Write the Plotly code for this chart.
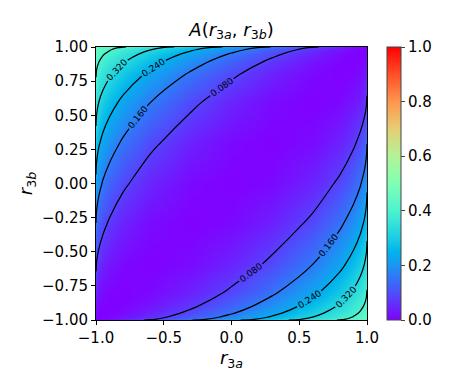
import plotly.graph_objects as go

# grid coordinates (r3a along x, r3b along y), denser near the edges
r3a = [-1.0, -0.995, -0.98, -0.95, -0.9, -0.8, -0.6, -0.3, 0.0, 0.3, 0.6, 0.8, 0.9, 0.95, 0.98, 0.995, 1.0]
r3b = [-1.0, -0.995, -0.98, -0.95, -0.9, -0.8, -0.6, -0.3, 0.0, 0.3, 0.6, 0.8, 0.9, 0.95, 0.98, 0.995, 1.0]

# A values, rows = r3b, columns = r3a
A = [
    [0.0, 0.0011, 0.0045, 0.0113, 0.0225, 0.045, 0.09, 0.1575, 0.225, 0.2925, 0.36, 0.405, 0.4275, 0.4388, 0.4455, 0.4489, 0.45],
    [0.0011, 0.0, 0.0011, 0.0053, 0.0137, 0.0324, 0.0727, 0.1364, 0.2025, 0.2707, 0.3413, 0.3906, 0.4167, 0.4307, 0.4399, 0.4455, 0.4489],
    [0.0045, 0.0011, 0.0, 0.0015, 0.007, 0.0217, 0.0569, 0.1161, 0.1802, 0.2484, 0.3215, 0.3745, 0.4039, 0.4205, 0.4322, 0.4399, 0.4455],
    [0.0113, 0.0053, 0.0015, 0.0, 0.002, 0.0118, 0.0405, 0.0939, 0.1547, 0.2221, 0.297, 0.3538, 0.3868, 0.4061, 0.4205, 0.4307, 0.4388],
    [0.0225, 0.0137, 0.007, 0.002, 0.0, 0.0042, 0.025, 0.0707, 0.1269, 0.1922, 0.268, 0.3282, 0.3645, 0.3868, 0.4039, 0.4167, 0.4275],
    [0.045, 0.0324, 0.0217, 0.0118, 0.0042, 0.0, 0.009, 0.0422, 0.09, 0.1502, 0.225, 0.288, 0.3282, 0.3538, 0.3745, 0.3906, 0.405],
    [0.09, 0.0727, 0.0569, 0.0405, 0.025, 0.009, 0.0, 0.0128, 0.045, 0.0938, 0.162, 0.225, 0.268, 0.297, 0.3215, 0.3413, 0.36],
    [0.1575, 0.1364, 0.1161, 0.0939, 0.0707, 0.0422, 0.0128, 0.0, 0.0104, 0.0405, 0.0938, 0.1502, 0.1922, 0.2221, 0.2484, 0.2707, 0.2925],
    [0.225, 0.2025, 0.1802, 0.1547, 0.1269, 0.09, 0.045, 0.0104, 0.0, 0.0104, 0.045, 0.09, 0.1269, 0.1547, 0.1802, 0.2025, 0.225],
    [0.2925, 0.2707, 0.2484, 0.2221, 0.1922, 0.1502, 0.0938, 0.0405, 0.0104, 0.0, 0.0128, 0.0422, 0.0707, 0.0939, 0.1161, 0.1364, 0.1575],
    [0.36, 0.3413, 0.3215, 0.297, 0.268, 0.225, 0.162, 0.0938, 0.045, 0.0128, 0.0, 0.009, 0.025, 0.0405, 0.0569, 0.0727, 0.09],
    [0.405, 0.3906, 0.3745, 0.3538, 0.3282, 0.288, 0.225, 0.1502, 0.09, 0.0422, 0.009, 0.0, 0.0042, 0.0118, 0.0217, 0.0324, 0.045],
    [0.4275, 0.4167, 0.4039, 0.3868, 0.3645, 0.3282, 0.268, 0.1922, 0.1269, 0.0707, 0.025, 0.0042, 0.0, 0.002, 0.007, 0.0137, 0.0225],
    [0.4388, 0.4307, 0.4205, 0.4061, 0.3868, 0.3538, 0.297, 0.2221, 0.1547, 0.0939, 0.0405, 0.0118, 0.002, 0.0, 0.0015, 0.0053, 0.0113],
    [0.4455, 0.4399, 0.4322, 0.4205, 0.4039, 0.3745, 0.3215, 0.2484, 0.1802, 0.1161, 0.0569, 0.0217, 0.007, 0.0015, 0.0, 0.0011, 0.0045],
    [0.4489, 0.4455, 0.4399, 0.4307, 0.4167, 0.3906, 0.3413, 0.2707, 0.2025, 0.1364, 0.0727, 0.0324, 0.0137, 0.0053, 0.0011, 0.0, 0.0011],
    [0.45, 0.4489, 0.4455, 0.4388, 0.4275, 0.405, 0.36, 0.2925, 0.225, 0.1575, 0.09, 0.045, 0.0225, 0.0113, 0.0045, 0.0011, 0.0],
]

x_ticks = [-1.0, -0.5, 0.0, 0.5, 1.0]
y_ticks = [-1.0, -0.75, -0.5, -0.25, 0.0, 0.25, 0.5, 0.75, 1.0]
cbar_ticks = [0.0, 0.2, 0.4, 0.6, 0.8, 1.0]

# matplotlib "rainbow"
rainbow = [
    [0.0, "rgb(128,0,255)"],
    [0.1, "rgb(77,79,252)"],
    [0.2, "rgb(26,150,243)"],
    [0.25, "rgb(0,180,236)"],
    [0.3, "rgb(26,206,227)"],
    [0.4, "rgb(77,243,206)"],
    [0.5, "rgb(128,255,180)"],
    [0.6, "rgb(179,243,150)"],
    [0.7, "rgb(230,206,116)"],
    [0.8, "rgb(255,150,79)"],
    [0.9, "rgb(255,79,40)"],
    [1.0, "rgb(255,0,0)"],
]


def minus(s):
    return s.replace("-", "\u2212")


fig = go.Figure()
fig.add_trace(
    go.Heatmap(
        x=r3a,
        y=r3b,
        z=A,
        zmin=0,
        zmax=1,
        zsmooth="best",
        colorscale=rainbow,
        colorbar=dict(
            x=1.0738,
            xanchor="left",
            xpad=0,
            y=0.5,
            yanchor="middle",
            ypad=0,
            len=1.0,
            thickness=14,
            outlinecolor="#444",
            outlinewidth=1,
            tickvals=cbar_ticks,
            ticktext=[f"{v:.1f}" for v in cbar_ticks],
            ticks="outside",
            ticklen=4,
            tickfont=dict(size=15, color="black"),
        ),
        hoverinfo="skip",
    )
)
fig.add_trace(
    go.Contour(
        x=r3a,
        y=r3b,
        z=A,
        showscale=False,
        contours=dict(
            coloring="none",
            start=0.08,
            end=0.41,
            size=0.08,
            showlabels=True,
            labelformat=".3f",
            labelfont=dict(size=9, color="black"),
        ),
        line=dict(color="black", width=1.2, smoothing=1),
        hoverinfo="skip",
    )
)

# the page body adds 8px on the top and left, so the figure is 8px smaller
fig.update_layout(
    width=446,
    height=380,
    margin=dict(l=88, r=87, t=39, b=68),
    paper_bgcolor="white",
    plot_bgcolor="white",
    font=dict(family="DejaVu Sans", size=15, color="black"),
    showlegend=False,
    title=dict(
        text="<i>A</i>(<i>r</i><sub>3<i>a</i></sub>, <i>r</i><sub>3<i>b</i></sub>)",
        x=0.5,
        xref="paper",
        xanchor="center",
        y=1,
        yref="container",
        yanchor="top",
        pad=dict(t=15),
        font=dict(size=18),
    ),
)
fig.update_xaxes(
    range=[-1, 1],
    automargin=False,
    tickvals=x_ticks,
    ticktext=[minus(f"{v:.1f}") for v in x_ticks],
    ticks="outside",
    ticklen=4,
    tickcolor="black",
    showline=True,
    linecolor="black",
    mirror=True,
    showgrid=False,
    zeroline=False,
    title=dict(text="<i>r</i><sub>3<i>a</i></sub>", standoff=0),
)
fig.update_yaxes(
    range=[-1, 1],
    automargin=False,
    tickvals=y_ticks,
    ticktext=[minus(f"{v:.2f}") for v in y_ticks],
    ticks="outside",
    ticklen=4,
    tickcolor="black",
    showline=True,
    linecolor="black",
    mirror=True,
    showgrid=False,
    zeroline=False,
    title=dict(text="<i>r</i><sub>3<i>b</i></sub>", standoff=4),
)

fig.write_html("out.html")
